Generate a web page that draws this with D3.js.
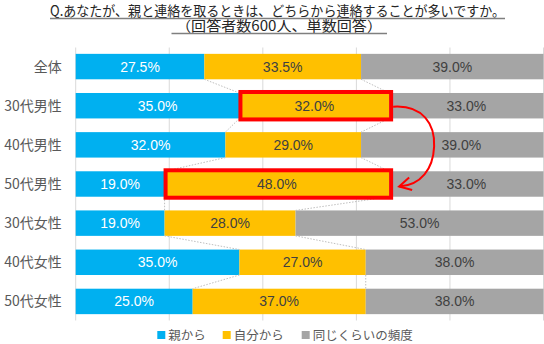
<!DOCTYPE html>
<html><head><meta charset="utf-8">
<script src="https://cdn.jsdelivr.net/npm/d3@7"></script>
<style>body{margin:0;background:#fff}svg{display:block}</style>
</head><body>
<svg id="c" width="544" height="344"></svg>
<script>
const categories = ["全体","30代男性","40代男性","50代男性","30代女性","40代女性","50代女性"];
const oyaKara   = [27.5, 35.0, 32.0, 19.0, 19.0, 35.0, 25.0];
const jibunKara = [33.5, 32.0, 29.0, 48.0, 28.0, 27.0, 37.0];
const onaji     = [39.0, 33.0, 39.0, 33.0, 53.0, 38.0, 38.0];
const seriesNames = ["親から","自分から","同じくらいの頻度"];
const xTicks = [0,20,40,60,80,100];
const titleLines = ["Q.あなたが、親と連絡を取るときは、どちらから連絡することが多いですか。","（回答者数600人、単数回答）"];
const highlighted = ["30代男性","50代男性"]; // yellow segments boxed in red

const colors = ["#00B0F0","#FFC000","#A5A5A5"];
const keys = ["oya","jibun","onaji"];
const rows = categories.map((c,i)=>({cat:c, oya:oyaKara[i], jibun:jibunKara[i], onaji:onaji[i]}));

const svg = d3.select("#c");
const x = d3.scaleLinear().domain([0,100]).range([75.7,543.5]);
const y = d3.scaleBand().domain(categories).range([47,321]).paddingInner(0.35).paddingOuter(0.175);
const jp = "'Noto Sans CJK JP','Noto Sans',sans-serif";

// Title
const tl = [{t:titleLines[0], y:16, len:455, cx:277.5, ul0:50, ul1:505},
            {t:titleLines[1], y:31, len:206, cx:279, ul0:171.5, ul1:387}];
tl.forEach(d=>{
  svg.append("text").attr("x",d.cx).attr("y",d.y).attr("text-anchor","middle")
    .attr("font-family",jp).attr("font-size",14).attr("fill","#262626")
    .attr("textLength",d.len).attr("lengthAdjust","spacingAndGlyphs").text(d.t);
  svg.append("line").attr("x1",d.ul0).attr("x2",d.ul1)
    .attr("y1",d.y+2.5).attr("y2",d.y+2.5).attr("stroke","#7f7f7f").attr("stroke-width",1.6);
});

// gridlines
svg.append("g").selectAll("line").data(xTicks).join("line")
  .attr("x1",d=>x(d)).attr("x2",d=>x(d)).attr("y1",47.5).attr("y2",320.5)
  .attr("stroke","#d9d9d9").attr("stroke-width",1);

// stack
const stacked = d3.stack().keys(keys)(rows);
const g = svg.append("g");
stacked.forEach((s,si)=>{
  g.append("g").selectAll("rect").data(s).join("rect")
    .attr("x",d=>x(d[0])).attr("width",d=>x(d[1])-x(d[0]))
    .attr("y",d=>y(d.data.cat)).attr("height",y.bandwidth())
    .attr("fill",colors[si]);
});

// series lines (dotted connectors)
const sl = svg.append("g").attr("stroke","#bfbfbf").attr("stroke-width",1).attr("stroke-dasharray","1.5,1.5");
for(let si=0;si<2;si++){
  const s = stacked[si];
  for(let i=0;i<s.length-1;i++){
    sl.append("line")
      .attr("x1",x(s[i][1])).attr("y1",y(s[i].data.cat)+y.bandwidth())
      .attr("x2",x(s[i+1][1])).attr("y2",y(s[i+1].data.cat));
  }
}

// value labels (the 40代男性 grey label is nudged right to clear the arrow, as in the original)
stacked.forEach((s,si)=>{
  svg.append("g").selectAll("text").data(s).join("text")
    .attr("x",d=>(x(d[0])+x(d[1]))/2 + (si===2 && d.data.cat==="40代男性" ? 9 : 0))
    .attr("y",d=>y(d.data.cat)+y.bandwidth()/2+5)
    .attr("text-anchor","middle").attr("font-family","'Liberation Sans',Arial,sans-serif")
    .attr("font-size",14).attr("fill",si===0?"#ffffff":"#404040")
    .text(d=>(d[1]-d[0]).toFixed(1)+"%");
});

// category labels
svg.append("g").selectAll("text").data(categories).join("text")
  .attr("x",x(0)-14).attr("y",d=>y(d)+y.bandwidth()/2).attr("dy","0.36em")
  .attr("text-anchor","end").attr("font-family",jp).attr("font-size",14).attr("fill","#595959")
  .text(d=>d);

// red highlight boxes
const ys = stacked[1];
highlighted.forEach(c=>{
  const d = ys.find(e=>e.data.cat===c);
  svg.append("rect").attr("x",x(d[0])+1).attr("width",x(d[1])-x(d[0])+1)
    .attr("y",y(c)-1).attr("height",y.bandwidth()+2)
    .attr("fill","none").attr("stroke","#ff0000").attr("stroke-width",4);
});

// curved arrow
const a = ys.find(e=>e.data.cat===highlighted[0]);
const b = ys.find(e=>e.data.cat===highlighted[1]);
const sx = x(a[1])+4, sy = y(highlighted[0])+y.bandwidth()/2+1;
const ex = x(b[1])+10, ey = y(highlighted[1])+y.bandwidth()/2+2.5;
const midY = (sy+ey)/2, apex = sx+41;
svg.append("path")
  .attr("d",`M${sx},${sy} C${sx+30},${sy-2} ${apex+1},${sy+18} ${apex},${midY} C${apex-1},${midY+22} ${ex+22},${ey-1} ${ex},${ey}`)
  .attr("fill","none").attr("stroke","#ff0000").attr("stroke-width",2);
svg.append("path")
  .attr("d",`M${ex+10},${ey-9} L${ex},${ey} L${ex+13},${ey+3.5}`)
  .attr("fill","none").attr("stroke","#ff0000").attr("stroke-width",2).attr("stroke-linejoin","miter");

// legend
const lx = [157.3, 222.7, 301.7];
const lg = svg.append("g");
seriesNames.forEach((n,i)=>{
  lg.append("rect").attr("x",lx[i]).attr("y",331).attr("width",8).attr("height",8).attr("fill",colors[i]);
  lg.append("text").attr("x",lx[i]+11).attr("y",335).attr("dy","0.36em")
    .attr("font-family",jp).attr("font-size",12.5).attr("fill","#595959").text(n);
});
</script>
</body></html>
